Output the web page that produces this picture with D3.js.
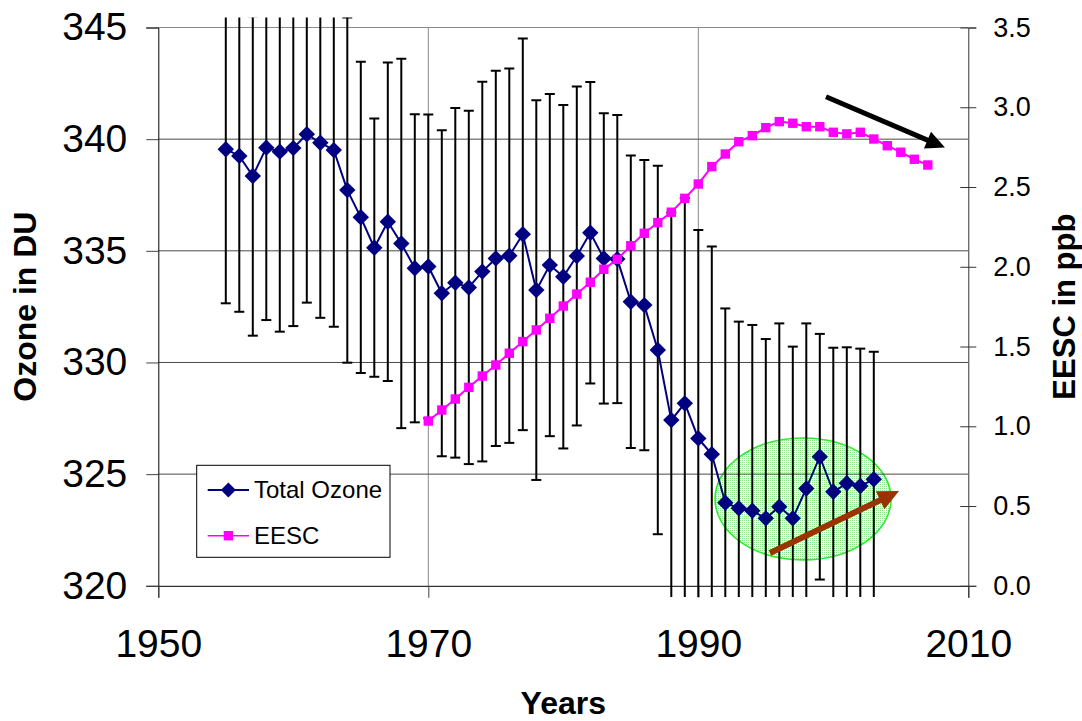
<!DOCTYPE html>
<html>
<head>
<meta charset="utf-8">
<script src="https://cdn.jsdelivr.net/npm/d3@7"></script>
<style>
  html, body { margin: 0; padding: 0; background: #fff; }
  svg { display: block; font-family: "Liberation Sans", Arial, sans-serif; }
</style>
</head>
<body>
<svg id="chart" width="1082" height="721"></svg>
<script>
// Annual mean total ozone (DU) with ±1σ spread, and EESC (ppb)
const ozoneYears = d3.range(1955, 2004);
const ozone = [
  339.55, 339.25, 338.35, 339.62, 339.44, 339.60, 340.22, 339.84, 339.51, 337.72,
  336.50, 335.14, 336.30, 335.33, 334.22, 334.30, 333.10, 333.57, 333.36, 334.07,
  334.66, 334.78, 335.74, 333.24, 334.36, 333.84, 334.77, 335.81, 334.66, 334.63,
  332.72, 332.57, 330.56, 327.42, 328.17, 326.60, 325.89, 323.72, 323.47, 323.36,
  323.02, 323.54, 323.02, 324.36, 325.78, 324.21, 324.59, 324.47, 324.77
];
const ozoneError = [
  6.90, 6.98, 7.15, 7.72, 8.06, 7.97, 7.54, 7.84, 7.91, 7.73,
  6.97, 5.78, 7.13, 8.27, 6.90, 6.80, 7.30, 7.83, 7.91, 8.50,
  8.40, 8.38, 8.77, 8.50, 7.66, 7.69, 7.59, 6.75, 6.50, 6.45,
  6.55, 6.50, 8.25, 9.30, 9.20, 9.33, 9.30, 8.70, 8.36, 8.32,
  8.03, 8.21, 7.69, 7.39, 5.50, 6.45, 6.09, 6.15, 5.71
];
const eescYears = d3.range(1970, 2008);
const eesc = [
  1.033, 1.102, 1.171, 1.244, 1.315, 1.384, 1.458, 1.531, 1.604, 1.677,
  1.754, 1.829, 1.903, 1.984, 2.047, 2.132, 2.210, 2.277, 2.342, 2.429,
  2.519, 2.628, 2.707, 2.784, 2.822, 2.872, 2.910, 2.900, 2.878, 2.878,
  2.843, 2.833, 2.843, 2.801, 2.759, 2.718, 2.674, 2.638
];
const xTicks = [1950, 1970, 1990, 2010];
const yLeftTicks = [320, 325, 330, 335, 340, 345];
const yRightTicks = [0, 0.5, 1.0, 1.5, 2.0, 2.5, 3.0, 3.5];
const seriesNames = ["Total Ozone", "EESC"];

// Annotations: recovery ellipse and trend arrows (data coordinates)
const ellipseCenter = { year: 1997.76, ozone: 323.89 };
const ellipseRadius = { years: 6.52, ozone: 2.73 };
const eescTrendArrow = [{ year: 1999.46, v: 3.066 }, { year: 2008.27, v: 2.747 }];
const ozoneTrendArrow = [{ year: 1995.31, v: 321.47 }, { year: 2004.87, v: 324.24 }];

const svg = d3.select("#chart");
const plotL = 158.3, plotR = 968.3, plotT = 27.5, plotB = 585.8;

const x = d3.scaleLinear().domain([1950, 2010]).range([plotL, plotR]);
const yL = d3.scaleLinear().domain([320, 345]).range([plotB, plotT]);
const yR = d3.scaleLinear().domain([0, 3.5]).range([plotB, plotT]);

const defs = svg.append("defs");
// Clip region for error bars (slightly larger than the plot area)
defs.append("clipPath").attr("id", "errClip")
  .append("rect").attr("x", 0).attr("y", yL(345.45))
  .attr("width", 1082).attr("height", yL(319.5) - yL(345.45));

// Dotted fill for the ellipse
const pat = defs.append("pattern")
  .attr("id", "dots").attr("width", 2).attr("height", 2)
  .attr("patternUnits", "userSpaceOnUse");
pat.append("rect").attr("width", 2).attr("height", 2).attr("fill", "#ffffff");
pat.append("rect").attr("width", 1).attr("height", 1).attr("fill", "#8fe68f");

// Gridlines
const grid = svg.append("g");
grid.selectAll(".vg").data([1970, 1990]).join("line")
  .attr("x1", d => x(d)).attr("x2", d => x(d))
  .attr("y1", plotT).attr("y2", plotB)
  .attr("stroke", "#8a8a8a").attr("stroke-width", 1);
grid.append("line").attr("x1", plotL).attr("x2", plotR).attr("y1", plotT).attr("y2", plotT)
  .attr("stroke", "#8a8a8a").attr("stroke-width", 1);

// Recovery ellipse (behind the data)
const ecx = x(ellipseCenter.year), ecy = yL(ellipseCenter.ozone);
const erx = x(ellipseCenter.year + ellipseRadius.years) - ecx;
const ery = ecy - yL(ellipseCenter.ozone + ellipseRadius.ozone);
svg.append("ellipse").attr("cx", ecx).attr("cy", ecy).attr("rx", erx).attr("ry", ery)
  .attr("fill", "url(#dots)").attr("stroke", "#33e633").attr("stroke-width", 1.6);

grid.raise();
grid.selectAll(".hg").data([325, 330, 335, 340]).join("line")
  .attr("x1", plotL).attr("x2", plotR)
  .attr("y1", d => yL(d)).attr("y2", d => yL(d))
  .attr("stroke", "#4a4a4a").attr("stroke-width", 1);

// Axes
const fontReg = "Liberation Sans, Arial, sans-serif";
const axL = svg.append("g").attr("transform", `translate(${plotL},0)`)
  .call(d3.axisLeft(yL).tickValues(yLeftTicks).tickSize(12).tickPadding(19).tickFormat(d3.format("d")));
axL.select(".domain").attr("stroke", "#000");
axL.selectAll(".tick line").attr("stroke", "#444");
axL.selectAll("text").attr("font-size", 39).attr("font-family", fontReg).attr("fill", "#000");

const axB = svg.append("g").attr("transform", `translate(0,${plotB})`)
  .call(d3.axisBottom(x).tickValues(xTicks).tickSize(12).tickPadding(32).tickFormat(d3.format("d")));
axB.select(".domain").attr("stroke", "#000");
axB.selectAll(".tick line").attr("stroke", "#444");
axB.selectAll("text").attr("font-size", 39).attr("font-family", fontReg).attr("fill", "#000");

const axR = svg.append("g").attr("transform", `translate(${plotR},0)`)
  .call(d3.axisRight(yR).tickValues(yRightTicks).tickSize(8).tickPadding(17).tickFormat(d3.format(".1f")));
axR.select(".domain").attr("stroke", "#333");
axR.selectAll(".tick line").attr("x1", -8).attr("stroke", "#333");
axR.selectAll("text").attr("font-size", 27).attr("font-family", fontReg).attr("fill", "#000");

// Axis titles
svg.append("text").attr("transform", `translate(36,${(plotT + plotB) / 2}) rotate(-90)`)
  .attr("text-anchor", "middle").attr("font-size", 32).attr("font-weight", "bold")
  .text("Ozone in DU");
svg.append("text").attr("transform", `translate(1075,${(plotT + plotB) / 2}) rotate(-90)`)
  .attr("text-anchor", "middle").attr("font-size", 31).attr("font-weight", "bold")
  .text("EESC in ppb");
svg.append("text").attr("x", (plotL + plotR) / 2).attr("y", 714)
  .attr("text-anchor", "middle").attr("font-size", 32).attr("font-weight", "bold")
  .text("Years");

// Error bars
const ozoneData = ozoneYears.map((yr, i) => ({ yr, v: ozone[i], e: ozoneError[i] }));
const eb = svg.append("g").attr("clip-path", "url(#errClip)")
  .attr("stroke", "#000").attr("stroke-width", 2);
eb.selectAll(".bar").data(ozoneData).join("line")
  .attr("x1", d => x(d.yr)).attr("x2", d => x(d.yr))
  .attr("y1", d => yL(d.v + d.e)).attr("y2", d => yL(d.v - d.e));
eb.selectAll(".capT").data(ozoneData).join("line")
  .attr("x1", d => x(d.yr) - 5).attr("x2", d => x(d.yr) + 5)
  .attr("y1", d => yL(d.v + d.e)).attr("y2", d => yL(d.v + d.e));
eb.selectAll(".capB").data(ozoneData).join("line")
  .attr("x1", d => x(d.yr) - 5).attr("x2", d => x(d.yr) + 5)
  .attr("y1", d => yL(d.v - d.e)).attr("y2", d => yL(d.v - d.e));

// Total ozone series
const navy = "#000080", magenta = "#ff00ff";
const diamond = s => `M0,${-s}L${s},0L0,${s}L${-s},0Z`;
svg.append("path").datum(ozoneData)
  .attr("fill", "none").attr("stroke", navy).attr("stroke-width", 2)
  .attr("d", d3.line().x(d => x(d.yr)).y(d => yL(d.v)));
svg.append("g").selectAll("path").data(ozoneData).join("path")
  .attr("transform", d => `translate(${x(d.yr)},${yL(d.v)})`)
  .attr("d", diamond(8.2)).attr("fill", navy);

// EESC series
const eescData = eescYears.map((yr, i) => ({ yr, v: eesc[i] }));
svg.append("path").datum(eescData)
  .attr("fill", "none").attr("stroke", magenta).attr("stroke-width", 2)
  .attr("d", d3.line().x(d => x(d.yr)).y(d => yR(d.v)));
svg.append("g").selectAll("rect").data(eescData).join("rect")
  .attr("x", d => x(d.yr) - 4.7).attr("y", d => yR(d.v) - 4.7)
  .attr("width", 9.4).attr("height", 9.4).attr("fill", magenta);

// Arrow helper
function arrow(x1, y1, x2, y2, color, shaft, headLen, headHalf) {
  const ang = Math.atan2(y2 - y1, x2 - x1);
  const len = Math.hypot(x2 - x1, y2 - y1);
  const g = svg.append("g").attr("transform", `translate(${x1},${y1}) rotate(${ang * 180 / Math.PI})`);
  g.append("path")
    .attr("d", `M0,${-shaft / 2}L${len - headLen},${-shaft / 2}L${len - headLen},${-headHalf}` +
               `L${len},0L${len - headLen},${headHalf}L${len - headLen},${shaft / 2}L0,${shaft / 2}Z`)
    .attr("fill", color);
}
arrow(x(eescTrendArrow[0].year), yR(eescTrendArrow[0].v),
      x(eescTrendArrow[1].year), yR(eescTrendArrow[1].v), "#000", 5, 19, 9);
arrow(x(ozoneTrendArrow[0].year), yL(ozoneTrendArrow[0].v),
      x(ozoneTrendArrow[1].year), yL(ozoneTrendArrow[1].v), "#993300", 6, 21, 10);

// Legend
const lg = svg.append("g");
lg.append("rect").attr("x", 196.7).attr("y", 465.3).attr("width", 193.3).attr("height", 92)
  .attr("fill", "#fff").attr("stroke", "#000").attr("stroke-width", 1);
const legendRows = [
  { name: seriesNames[0], color: navy, y: 490, marker: "diamond" },
  { name: seriesNames[1], color: magenta, y: 535.7, marker: "square" }
];
legendRows.forEach(r => {
  lg.append("line").attr("x1", 207.7).attr("x2", 249).attr("y1", r.y).attr("y2", r.y)
    .attr("stroke", r.color).attr("stroke-width", r.marker === "diamond" ? 2 : 1.5);
  if (r.marker === "diamond") {
    lg.append("path").attr("transform", `translate(228.4,${r.y})`).attr("d", diamond(7.5)).attr("fill", r.color);
  } else {
    lg.append("rect").attr("x", 228.4 - 4.7).attr("y", r.y - 4.7).attr("width", 9.4).attr("height", 9.4).attr("fill", r.color);
  }
  lg.append("text").attr("x", 254).attr("y", r.y + 8.3).attr("font-size", 24).text(r.name);
});
</script>
</body>
</html>
